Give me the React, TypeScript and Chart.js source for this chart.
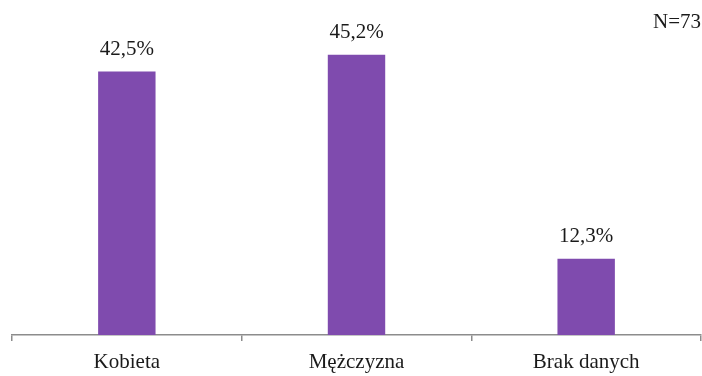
import React, { useEffect, useRef } from "react";
import { Chart, registerables } from "chart.js";

Chart.register(...registerables);

const categories = ["Kobieta", "Mężczyzna", "Brak danych"];
const values = [42.5, 45.2, 12.3];
const valueLabels = ["42,5%", "45,2%", "12,3%"];
const sampleNote = "N=73";

const FONT = "'Liberation Serif', 'DejaVu Serif', serif";

const labelPlugin = {
  id: "valueLabels",
  afterDatasetsDraw(chart: any) {
    const ctx = chart.ctx;
    const meta = chart.getDatasetMeta(0);
    ctx.save();
    ctx.fillStyle = "#1a1a1a";
    ctx.font = `21px ${FONT}`;
    ctx.textAlign = "center";
    ctx.textBaseline = "alphabetic";
    meta.data.forEach((bar: any, i: number) => {
      ctx.fillText(valueLabels[i], bar.x, bar.y - 17);
    });
    ctx.textAlign = "right";
    ctx.fillText(sampleNote, chart.width - 1, 28);
    ctx.restore();
  },
};

export default function App() {
  const ref = useRef<HTMLCanvasElement>(null);
  useEffect(() => {
    const chart = new Chart(ref.current!, {
      type: "bar",
      data: {
        labels: categories,
        datasets: [
          {
            data: values,
            backgroundColor: "#7F4BAE",
            categoryPercentage: 0.25,
            barPercentage: 1,
          },
        ],
      },
      options: {
        animation: false,
        responsive: false,
        maintainAspectRatio: false,
        layout: { padding: { left: 12, right: 1, top: 25, bottom: 0 } },
        plugins: { legend: { display: false }, tooltip: { enabled: false } },
        scales: {
          x: {
            afterFit: (scale: any) => {
              scale.height = 41;
            },
            border: { color: "#8c8c8c", width: 1.5 },
            grid: {
              offset: true,
              drawOnChartArea: false,
              drawTicks: true,
              tickLength: 6,
              color: "#8c8c8c",
              lineWidth: 1.5,
            },
            ticks: {
              color: "#1a1a1a",
              font: { family: FONT, size: 21 },
              padding: 9,
            },
          },
          y: {
            display: false,
            min: 0,
            max: 50,
          },
        },
      },
      plugins: [labelPlugin],
    });
    return () => chart.destroy();
  }, []);
  return (
    <div style={{ position: "fixed", left: 0, top: 0, width: 702, height: 376, background: "#fff" }}>
      <canvas ref={ref} width={702} height={376} style={{ width: 702, height: 376 }} />
    </div>
  );
}
